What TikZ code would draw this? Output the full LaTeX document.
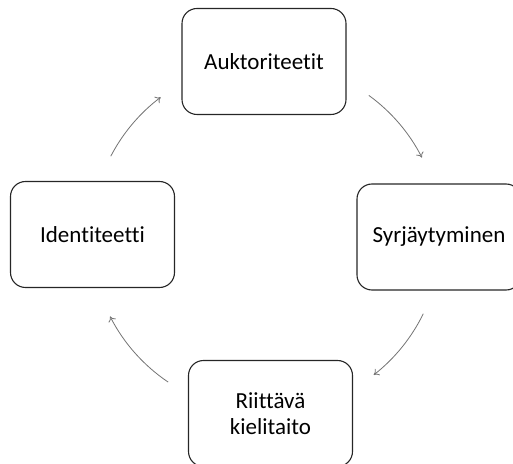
\documentclass[tikz,border=0pt]{standalone}
\usepackage{fontspec}
\setmainfont{Carlito}[Ligatures=NoCommon]
\usetikzlibrary{arrows.meta}
\begin{document}
\begin{tikzpicture}[x=1pt,y=1pt,
  box/.style={draw=black!85, line width=1.1pt, rounded corners=15pt,
    minimum width=164pt, minimum height=106pt, align=center,
    font=\fontsize{23}{25.5}\selectfont, inner sep=0pt},
  cyc/.style={draw=black!55, line width=0.8pt, -{To[length=5pt,width=8pt]}}]
\useasboundingbox (0,0) rectangle (513,463);
\node[box] (A) at (264,401.5) {Auktoriteetit};
\node[box] (S) at (439,226) {Syrjäytyminen};
\node[box] (R) at (270.5,49.5) {Riittävä\\kielitaito};
\node[box] (I) at (92.5,228.5) {Identiteetti};
\coordinate (c) at (266,226);
\draw[cyc] (c) ++(54:175) arc[start angle=54, end angle=27, radius=175];
\draw[cyc] (c) ++(-26:175) arc[start angle=-26, end angle=-52, radius=175];
\draw[cyc] (c) ++(236:175) arc[start angle=236, end angle=207, radius=175];
\draw[cyc] (c) ++(152.5:175) arc[start angle=152.5, end angle=127, radius=175];
\end{tikzpicture}
\end{document}
